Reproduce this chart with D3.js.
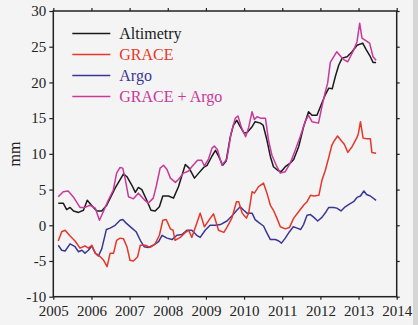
<!DOCTYPE html>
<html>
<head>
<meta charset="utf-8">
<script src="https://cdn.jsdelivr.net/npm/d3@7"></script>
<style>
  body { margin: 0; background: #f4f4f4; }
</style>
</head>
<body>
<div id="chart"></div>
<script>
// series values: [year, mm]
var altimetry = [[2005.13,3.1],[2005.26,3.1],[2005.35,2.2],[2005.44,2.5],[2005.53,2.0],[2005.66,1.8],[2005.79,2.1],[2005.89,3.5],[2006.0,2.8],[2006.14,2.0],[2006.27,2.0],[2006.4,2.8],[2006.62,5.2],[2006.84,7.2],[2006.93,6.8],[2007.06,5.6],[2007.15,4.6],[2007.23,5.3],[2007.32,5.0],[2007.45,3.5],[2007.56,2.1],[2007.67,2.0],[2007.78,2.6],[2007.87,4.1],[2008.02,4.1],[2008.15,3.8],[2008.28,5.4],[2008.46,8.5],[2008.56,8.0],[2008.70,6.6],[2008.81,7.3],[2008.94,8.1],[2009.03,8.4],[2009.16,9.7],[2009.25,10.5],[2009.32,9.8],[2009.44,8.4],[2009.53,9.0],[2009.64,12.4],[2009.72,14.0],[2009.81,14.7],[2009.88,14.0],[2010.0,12.9],[2010.08,13.0],[2010.21,13.8],[2010.29,14.5],[2010.43,14.3],[2010.50,14.0],[2010.60,11.9],[2010.69,9.6],[2010.77,8.2],[2010.88,7.7],[2010.97,7.5],[2011.08,8.2],[2011.21,8.7],[2011.30,9.2],[2011.43,11.0],[2011.56,13.8],[2011.69,15.9],[2011.78,15.4],[2011.91,15.4],[2012.0,16.6],[2012.07,17.5],[2012.13,18.3],[2012.22,19.2],[2012.31,19.1],[2012.39,20.8],[2012.48,22.4],[2012.57,23.4],[2012.70,23.6],[2012.83,24.3],[2012.96,25.2],[2013.11,25.5],[2013.20,24.6],[2013.29,23.8],[2013.38,22.8],[2013.46,22.8]];

var grace = [[2005.13,-2.2],[2005.22,-0.9],[2005.31,-0.7],[2005.44,-1.5],[2005.57,-2.2],[2005.70,-3.2],[2005.83,-2.9],[2005.92,-3.2],[2006.01,-2.8],[2006.10,-3.9],[2006.23,-4.4],[2006.32,-4.9],[2006.41,-5.8],[2006.49,-3.9],[2006.58,-3.9],[2006.66,-2.1],[2006.75,-1.8],[2006.84,-1.9],[2006.93,-3.0],[2007.01,-4.9],[2007.10,-5.0],[2007.21,-4.4],[2007.28,-2.8],[2007.41,-2.8],[2007.54,-3.1],[2007.67,-2.6],[2007.78,-1.4],[2007.87,0.7],[2007.96,0.8],[2008.07,-0.5],[2008.14,-0.7],[2008.19,-2.1],[2008.33,-1.7],[2008.46,-1.0],[2008.55,-0.7],[2008.63,-1.7],[2008.76,0.3],[2008.85,1.7],[2008.96,-0.2],[2009.09,0.8],[2009.20,1.6],[2009.33,-0.7],[2009.47,-1.0],[2009.55,-0.3],[2009.68,1.0],[2009.80,3.3],[2009.86,3.3],[2009.95,1.7],[2010.06,1.0],[2010.12,1.7],[2010.21,4.7],[2010.27,4.5],[2010.38,5.4],[2010.51,5.9],[2010.60,4.5],[2010.69,2.8],[2010.77,2.1],[2010.86,1.0],[2010.95,-0.2],[2011.08,-0.5],[2011.19,-0.3],[2011.30,1.0],[2011.43,1.9],[2011.56,2.8],[2011.65,3.3],[2011.74,4.2],[2011.83,4.1],[2011.96,4.2],[2012.04,6.3],[2012.13,7.7],[2012.22,9.5],[2012.30,11.2],[2012.35,11.7],[2012.45,12.5],[2012.57,11.7],[2012.63,11.3],[2012.72,10.2],[2012.83,11.0],[2012.95,12.2],[2012.99,12.7],[2013.05,14.5],[2013.12,12.2],[2013.22,12.1],[2013.31,12.1],[2013.35,10.2],[2013.46,10.1]];

var argo = [[2005.13,-2.8],[2005.22,-3.5],[2005.31,-3.6],[2005.44,-2.6],[2005.57,-3.0],[2005.66,-3.7],[2005.75,-3.5],[2005.83,-3.9],[2005.92,-3.5],[2006.01,-2.9],[2006.10,-3.9],[2006.18,-4.3],[2006.27,-3.3],[2006.39,-0.6],[2006.49,-0.4],[2006.62,0.0],[2006.75,0.7],[2006.82,0.8],[2006.91,0.3],[2007.06,-0.4],[2007.17,-0.9],[2007.28,-2.1],[2007.38,-3.0],[2007.49,-3.1],[2007.62,-2.8],[2007.76,-2.3],[2007.85,-1.4],[2007.98,-1.8],[2008.11,-2.0],[2008.24,-1.4],[2008.37,-1.3],[2008.50,-0.7],[2008.63,-0.7],[2008.76,-1.4],[2008.85,-1.7],[2008.98,-0.7],[2009.11,0.0],[2009.25,0.0],[2009.38,0.1],[2009.55,0.6],[2009.68,1.3],[2009.81,2.1],[2009.90,2.6],[2009.99,2.1],[2010.08,1.7],[2010.21,1.7],[2010.29,0.8],[2010.38,0.4],[2010.51,-0.1],[2010.60,-1.1],[2010.69,-2.0],[2010.82,-2.0],[2010.91,-2.2],[2010.98,-2.5],[2011.08,-1.8],[2011.19,-0.9],[2011.29,-0.2],[2011.39,-0.4],[2011.48,-0.6],[2011.56,0.1],[2011.65,1.4],[2011.74,1.5],[2011.83,1.1],[2011.93,0.6],[2012.04,1.1],[2012.15,1.9],[2012.22,2.5],[2012.35,2.5],[2012.43,2.4],[2012.54,2.0],[2012.63,2.5],[2012.77,3.0],[2012.87,3.3],[2012.96,3.9],[2013.05,4.1],[2013.14,4.8],[2013.21,4.3],[2013.31,4.1],[2013.46,3.5]];

var graceArgo = [[2005.13,4.0],[2005.26,4.7],[2005.39,4.8],[2005.52,4.0],[2005.70,2.5],[2005.83,2.5],[2005.96,2.8],[2006.10,2.4],[2006.21,0.7],[2006.31,1.9],[2006.44,3.5],[2006.57,4.9],[2006.66,7.3],[2006.75,8.1],[2006.82,8.0],[2006.88,6.6],[2006.97,4.0],[2007.10,3.7],[2007.23,4.5],[2007.38,3.6],[2007.49,3.1],[2007.62,3.8],[2007.70,5.5],[2007.80,8.0],[2007.89,8.4],[2007.98,7.8],[2008.07,6.6],[2008.20,6.0],[2008.28,6.4],[2008.41,7.3],[2008.55,7.6],[2008.63,8.2],[2008.78,9.1],[2008.89,9.1],[2008.96,8.3],[2009.07,9.3],[2009.16,10.8],[2009.22,11.1],[2009.30,10.6],[2009.42,8.4],[2009.55,9.3],[2009.66,12.9],[2009.77,15.0],[2009.84,15.3],[2009.93,13.7],[2010.04,12.4],[2010.12,13.7],[2010.21,15.9],[2010.27,14.8],[2010.34,15.2],[2010.43,15.0],[2010.56,15.0],[2010.64,11.9],[2010.73,9.8],[2010.86,8.2],[2010.95,7.3],[2011.08,7.5],[2011.21,8.7],[2011.34,10.5],[2011.47,12.4],[2011.60,14.5],[2011.69,15.4],[2011.78,14.5],[2011.95,14.3],[2012.04,16.6],[2012.12,18.5],[2012.19,19.9],[2012.26,22.8],[2012.43,24.3],[2012.54,23.6],[2012.61,23.2],[2012.72,22.9],[2012.87,24.5],[2012.96,25.7],[2013.03,28.3],[2013.09,26.2],[2013.18,25.9],[2013.29,25.5],[2013.38,23.6],[2013.46,23.1]];

var seriesNames = ["Altimetry", "GRACE", "Argo", "GRACE + Argo"];
var seriesColors = ["#1a1a1a", "#e5372b", "#3a3794", "#c8399b"];
var xTicks = [2005, 2006, 2007, 2008, 2009, 2010, 2011, 2012, 2013, 2014];
var yTicks = [-10, -5, 0, 5, 10, 15, 20, 25, 30];

var serif = "'Liberation Serif', 'DejaVu Serif', serif";

var margin = {top: 11, right: 21.3, bottom: 28.3, left: 53.3},
    width = 418 - margin.left - margin.right,
    height = 325 - margin.top - margin.bottom;

var root = d3.select("#chart")
  .append("svg")
    .attr("width", 418)
    .attr("height", 325);

root.append("rect").attr("width", 418).attr("height", 325).style("fill", "#f4f4f4");
// grey strip on the right edge of the picture
root.append("rect").attr("x", 413).attr("width", 5).attr("height", 325).style("fill", "#d6d6d6");

var svg = root.append("g")
    .attr("transform", "translate(" + margin.left + "," + margin.top + ")");

var x = d3.scaleLinear().domain([2005, 2014]).range([0, width]);
var y = d3.scaleLinear().domain([-10, 30]).range([height, 0]);

function styleAxis(g) {
  g.attr("font-family", null);
  g.select(".domain").remove();
  g.selectAll("line").attr("stroke", "#222").attr("stroke-width", 1.2);
  g.selectAll("text")
    .style("font-family", serif)
    .style("font-size", "15px")
    .attr("fill", "#222");
}

svg.append("g")
  .attr("transform", "translate(0," + height + ")")
  .call(d3.axisBottom(x).tickValues(xTicks).tickFormat(d3.format("d")).tickSize(3).tickPadding(6))
  .call(styleAxis);

svg.append("g")
  .call(d3.axisTop(x).tickValues(xTicks).tickFormat("").tickSize(3))
  .call(styleAxis);

// plain hyphen for negatives, as in the original
svg.append("g")
  .call(d3.axisLeft(y).tickValues(yTicks).tickFormat(function(d) { return String(d); }).tickSize(4).tickPadding(3))
  .call(styleAxis);

svg.append("g")
  .attr("transform", "translate(" + width + ",0)")
  .call(d3.axisRight(y).tickValues(yTicks).tickFormat("").tickSize(3))
  .call(styleAxis);

// frame
svg.append("rect")
  .attr("width", width).attr("height", height)
  .style("fill", "none").style("stroke", "#222").style("stroke-width", 1.5);

var line = d3.line()
  .x(function(d) { return x(d[0]); })
  .y(function(d) { return y(d[1]); });

var allSeries = [altimetry, grace, argo, graceArgo];
// draw order: Argo, GRACE, Altimetry, then GRACE + Argo on top
[2, 1, 0, 3].forEach(function(i) {
  svg.append("path")
    .attr("d", line(allSeries[i]))
    .attr("fill", "none")
    .attr("stroke", seriesColors[i])
    .attr("stroke-width", 1.5)
    .attr("stroke-linejoin", "round");
});

// legend
var legend = svg.append("g").attr("transform", "translate(19,22.5)");
seriesNames.forEach(function(name, i) {
  legend.append("line")
    .attr("x1", 0).attr("x2", 38)
    .attr("y1", i * 21).attr("y2", i * 21)
    .attr("stroke", seriesColors[i]).attr("stroke-width", 1.5);
  legend.append("text")
    .attr("x", 47).attr("y", i * 21 + 5)
    .text(name)
    .style("font-family", serif)
    .style("font-size", "16px")
    .attr("fill", seriesColors[i]);
});

root.append("text")
  .attr("transform", "translate(20,154)rotate(-90)")
  .attr("text-anchor", "middle")
  .style("font-family", serif)
  .style("font-size", "16px")
  .attr("fill", "#222")
  .text("mm");
</script>
</body>
</html>
